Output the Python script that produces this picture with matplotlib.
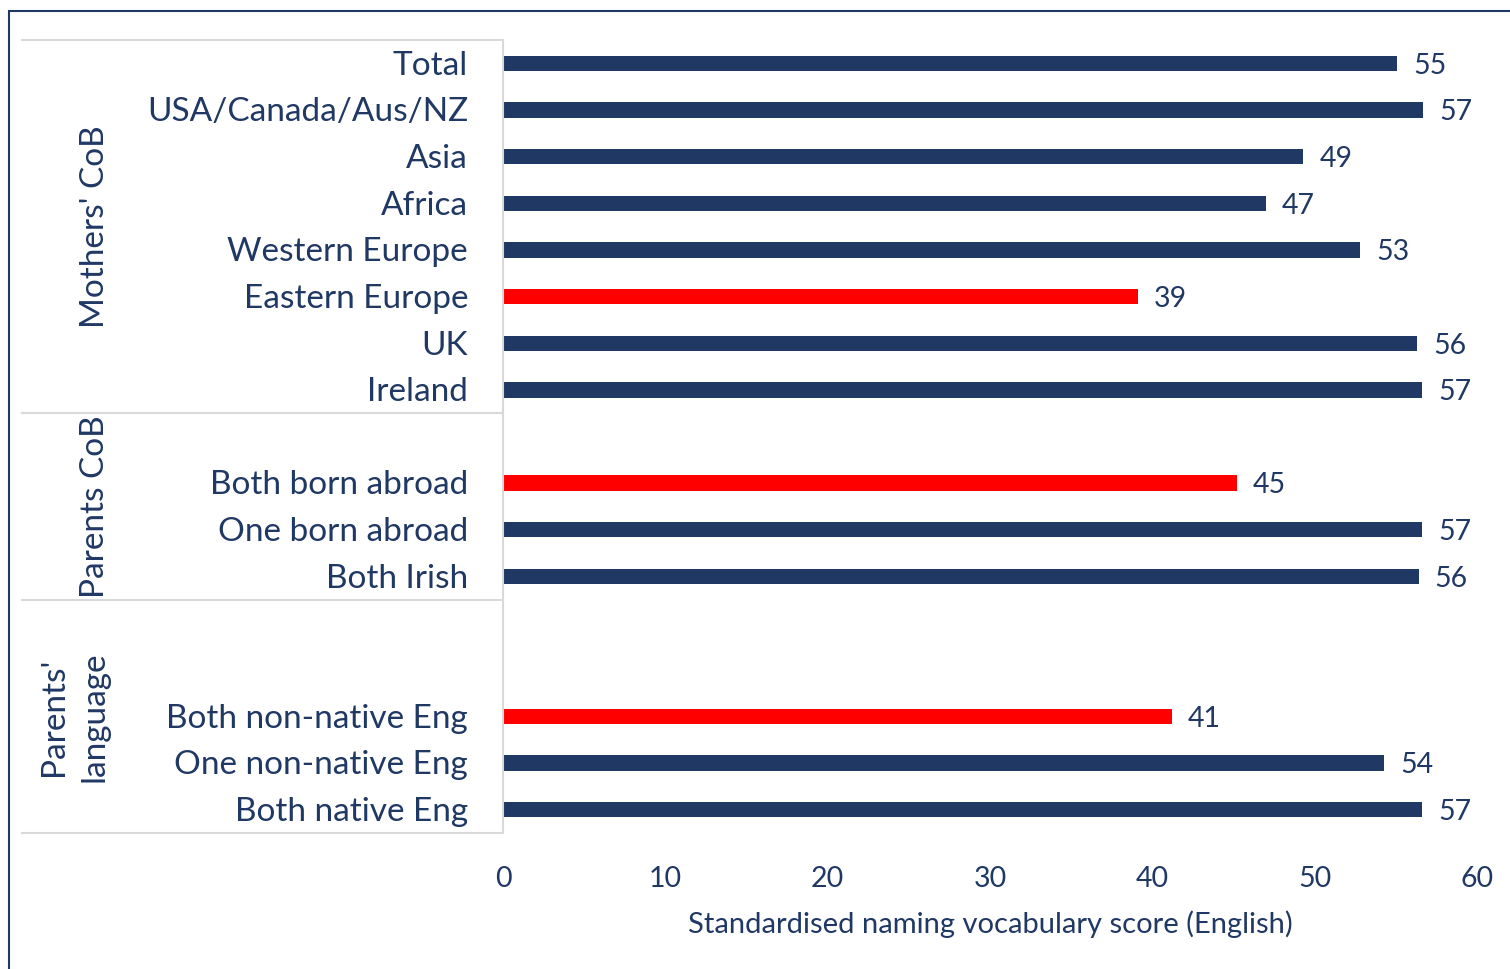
import numpy as np
import matplotlib
matplotlib.use('Agg')
from matplotlib import pyplot as plt
from matplotlib.patches import Rectangle

plt.rcParams['font.family'] = ['Lato', 'DejaVu Sans']

NAVY = '#203864'
RED = '#ff0000'
GRID = '#d9d9d9'

# rows from top to bottom; None marks an empty slot
labels = ['Total', 'USA/Canada/Aus/NZ', 'Asia', 'Africa', 'Western Europe',
          'Eastern Europe', 'UK', 'Ireland',
          None, 'Both born abroad', 'One born abroad', 'Both Irish',
          None, None, 'Both non-native Eng', 'One non-native Eng', 'Both native Eng']
scores = [55.1, 56.7, 49.3, 47.0, 52.8, 39.1, 56.3, 56.6,
          None, 45.2, 56.6, 56.4,
          None, None, 41.2, 54.3, 56.6]
highlight = ['Eastern Europe', 'Both born abroad', 'Both non-native Eng']

# groups: (title, first slot, last slot)
groups = [("Mothers' CoB", 0, 7), ('Parents CoB', 8, 11), ("Parents'\nlanguage", 12, 16)]
group_x = [95, 95, 74]

fig = plt.figure(figsize=(15.1, 9.69), dpi=100)
ax = fig.add_axes([503 / 1510, 1 - 833 / 969, 974 / 1510, 793 / 969])

ypos = np.arange(len(labels))
for y, lab, val in zip(ypos, labels, scores):
    if val is None:
        continue
    col = RED if lab in highlight else NAVY
    ax.barh(y, val, height=0.33, color=col)
    ax.text(val + 1.0, y + 0.05, f'{val:.0f}', va='center', ha='left',
            fontsize=20.5, color=NAVY)
    ax.text(-35 / 974, y + 0.05, lab, transform=ax.get_yaxis_transform(),
            va='center', ha='right', fontsize=24, color=NAVY)

ax.set_xlim(0, 60)
ax.set_ylim(len(labels) - 0.5, -0.5)
ax.set_xticks(np.arange(0, 61, 10))
ax.set_yticks([])
ax.tick_params(axis='x', length=0, pad=24, labelsize=20.5, labelcolor=NAVY)
ax.set_xlabel('Standardised naming vocabulary score (English)', fontsize=21,
              color=NAVY, labelpad=13)
for s in ['top', 'right', 'bottom']:
    ax.spines[s].set_visible(False)
ax.spines['left'].set_color(GRID)
ax.spines['left'].set_linewidth(1.5)

# group separators and titles on the left
trans = ax.get_yaxis_transform()
x0 = (22 - 503) / 974
edges = [-0.5] + [g[2] + 0.5 for g in groups]
for e in edges:
    ax.plot([x0, 0], [e, e], transform=trans, color=GRID, lw=1.5, clip_on=False)
for (title, a, b), gx in zip(groups, group_x):
    ax.text((gx - 503) / 974, (a + b) / 2, title, transform=trans, rotation=90,
            ha='center', va='center', fontsize=24, color=NAVY,
            multialignment='center', linespacing=1.45)

# outer frame
fig.patches.append(Rectangle((9 / 1510, -0.1), 1.2, 1 - 11 / 969 + 0.1,
                             transform=fig.transFigure, fill=False,
                             edgecolor=NAVY, lw=1.5))

fig.savefig('out.png', dpi=100)
